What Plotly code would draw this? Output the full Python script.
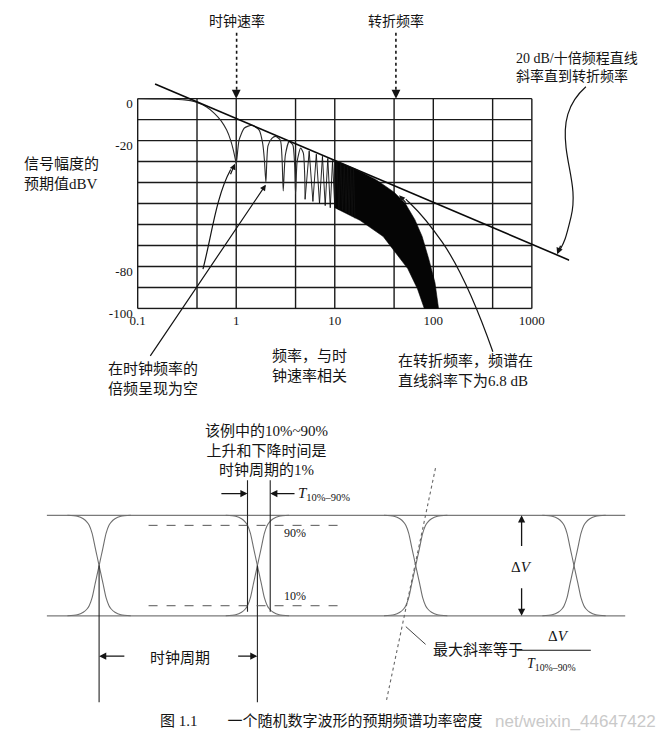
import math
import plotly.graph_objects as go

WIN_W, WIN_H = 667, 744
OFF = 8                       # page body margin; figure fills the rest of the window
W, H = WIN_W - OFF, WIN_H - OFF

# ---------------- top panel: expected spectrum ----------------
grid_freq = [0.1, 0.4, 1, 4, 10, 40, 100, 400, 1000]
grid_db = [0, -10, -20, -30, -40, -50, -60, -70, -80, -90, -100]
freq_tick_vals = [0.1, 1, 10, 100, 1000]
freq_tick_text = ["0.1", "1", "10", "100", "1000"]
db_tick_vals = [0, -20, -80, -100]
db_tick_text = ["0", "-20", "-80", "-100"]

# 20 dB/decade asymptote
asym_freq = [0.15, 2400]
asym_db = [7.0, -77.0]

# main lobe and the first side lobes (nulls at multiples of the clock)
lobe_freq = [0.1, 0.2, 0.3, 0.38, 0.5, 0.6, 0.7, 0.8, 0.88, 0.94, 0.98, 1.0,
             1.07, 1.21, 1.45, 1.71, 1.85, 1.93, 2.0,
             2.1, 2.3, 2.5, 2.8, 2.92, 3.0,
             3.15, 3.44, 3.75, 3.92, 4.0,
             4.15, 4.5, 4.8, 4.95, 5.0]
lobe_db = [0, -0.2, -0.6, -1.5, -4, -7, -10.5, -15, -20, -25, -29, -31,
           -19.7, -14, -12.7, -15, -21, -29, -40,
           -22.5, -19, -18, -19.7, -29, -44,
           -27, -20.5, -22, -32, -45.5,
           -30, -23.5, -26, -36, -48]

# dense comb of narrow side lobes
comb_freq = [5, 5.5, 6, 6.5, 7, 7.5, 8, 8.5, 9, 9.5, 10, 10.5, 11, 11.5, 12, 12.5,
             13, 13.5, 14, 14.5, 15, 15.5, 16]
comb_db = [-48, -25, -49, -26.5, -50, -27.5, -51, -28.5, -52, -29.5, -52, -30.5,
           -53, -31, -53, -32, -54, -32.5, -55, -33, -56, -33.5, -57]

# solid black band where the lobes merge
band_upper_freq = [10, 16.6, 26, 40, 52, 65, 77, 90, 104, 113]
band_upper_db = [-29.5, -33.8, -38.5, -44.6, -50, -57.7, -65.7, -76.5, -87.8, -100]
band_lower_freq = [81, 69, 55, 40, 31, 18, 12, 10]
band_lower_db = [-100, -90.6, -81, -72.8, -65.7, -58, -54, -52]

clock_rate = 1.0
corner_freq = 41.8
corner_point = (45.0, -46.0)
null_points_freq = [0.97, 2.0]
null_points_db = [-31.0, -41.0]

# ---------------- bottom panel: eye diagram (time in clock periods, volts normalised) ----------------
crossings = [0, 1, 2, 3]
edge_dt = [-0.2, -0.1375, -0.1, -0.075, -0.0625, -0.044, -0.025, -0.0125, 0,
           0.0125, 0.025, 0.044, 0.0625, 0.075, 0.1, 0.1375, 0.2]
fall_v = [1.0, 0.99, 0.965, 0.93, 0.90, 0.82, 0.68, 0.59, 0.5,
          0.41, 0.32, 0.18, 0.10, 0.07, 0.035, 0.01, 0.0]
rise_v = [1.0 - v for v in fall_v]
t_start, t_end = -0.33125, 3.325
level_hi, level_lo = 1.0, 0.0
pct90, pct10 = 0.9, 0.1
t_rise_10, t_rise_90 = 0.9375, 1.081

# ---------------- geometry helpers (arguments are window pixels) ----------------
def P(px, py):
    return (px - OFF) / W, 1 - (py - OFF) / H

def dom_x(a, b):
    return [(a - OFF) / W, (b - OFF) / W]

def dom_y(top, bottom):
    return [1 - (bottom - OFF) / H, 1 - (top - OFF) / H]

def px_path(spec):
    out = []
    for cmd, *pts in spec:
        out.append(cmd + " ".join("%.5f,%.5f" % P(x, y) for x, y in pts))
    return " ".join(out)

# top panel mapping: 99.6 px per decade, 2.13 px per dB; f=0.1 at x=132, 0 dB at y=100
x1_range = [-1.01, 3.38]
y1_range = [-100.5, 8]
x1_px = (132 + (x1_range[0] + 1) * 99.6, 132 + (x1_range[1] + 1) * 99.6)
y1_px = (100 - y1_range[1] * 2.13, 100 - y1_range[0] * 2.13)

# bottom panel mapping: 160 px per period (t=0 at x=93), 102 px per unit (v=0 at y=V0)
DY = 8                                   # bottom-panel vertical placement
V0 = 617 + DY
x2_range = [t_start, t_end]
y2_px = (423, 722)
y2_range = [(V0 - y2_px[1]) / 102, (V0 - y2_px[0]) / 102]
x2_px = (93 + t_start * 160, 93 + t_end * 160)

CJK = "Noto Sans CJK SC"
SERIF_CJK = "Liberation Serif, Noto Sans CJK SC"
INK = "#141414"

fig = go.Figure()

# grid of the spectrum plot
gx, gy = [], []
for f in grid_freq:
    gx += [f, f, None]
    gy += [grid_db[-1], grid_db[0], None]
for d in grid_db:
    gx += [grid_freq[0], grid_freq[-1], None]
    gy += [d, d, None]
fig.add_trace(go.Scatter(x=gx, y=gy, mode="lines", line=dict(color="#1a1a1a", width=1.4),
                         hoverinfo="skip", xaxis="x", yaxis="y"))

fig.add_trace(go.Scatter(
    x=band_upper_freq + band_lower_freq, y=band_upper_db + band_lower_db,
    mode="lines", fill="toself", fillcolor="#050505", line=dict(color="#050505", width=0.6),
    xaxis="x", yaxis="y"))
fig.add_trace(go.Scatter(x=comb_freq, y=comb_db, mode="lines",
                         line=dict(color="#101010", width=0.9), xaxis="x", yaxis="y"))
fig.add_trace(go.Scatter(x=lobe_freq, y=lobe_db, mode="lines",
                         line=dict(color="#2a2a2a", width=1.1, shape="spline", smoothing=0.6),
                         xaxis="x", yaxis="y"))
fig.add_trace(go.Scatter(x=asym_freq, y=asym_db, mode="lines",
                         line=dict(color="#0a0a0a", width=1.6), xaxis="x", yaxis="y"))

# eye diagram
for lv in (level_hi, level_lo):
    fig.add_trace(go.Scatter(x=[t_start, t_end], y=[lv, lv], mode="lines",
                             line=dict(color="#7a7a7a", width=1.3), xaxis="x2", yaxis="y2"))
ex_f, ey_f, ex_r, ey_r = [], [], [], []
for c in crossings:
    ex_f += [c + d for d in edge_dt] + [None]
    ey_f += fall_v + [None]
    ex_r += [c + d for d in edge_dt] + [None]
    ey_r += rise_v + [None]
for xs, ys in ((ex_f, ey_f), (ex_r, ey_r)):
    fig.add_trace(go.Scatter(x=xs, y=ys, mode="lines",
                             line=dict(color="#6e6e6e", width=1.1, shape="spline", smoothing=0.7),
                             xaxis="x2", yaxis="y2"))

shapes = []
ann = []

def text(px, py, s, size=15, anchor="left", family=CJK, color=INK):
    x, y = P(px, py)
    ann.append(dict(x=x, y=y, xref="paper", yref="paper", text=s, showarrow=False,
                    xanchor=anchor, yanchor="middle", align=anchor,
                    font=dict(family=family, size=size, color=color)))

def head(px, py, dx, dy, width=1.3, size=1.0):
    x, y = P(px, py)
    ann.append(dict(x=x, y=y, xref="paper", yref="paper", text="", showarrow=True,
                    ax=dx, ay=dy, arrowhead=2, arrowsize=size, arrowwidth=width,
                    arrowcolor=INK, standoff=0))

def pline(x0, y0, x1, y1, dash="solid", width=1.2, color=INK):
    a, b = P(x0, y0)
    c, d = P(x1, y1)
    shapes.append(dict(type="line", xref="paper", yref="paper", x0=a, y0=b, x1=c, y1=d,
                       line=dict(color=color, width=width, dash=dash)))

def ppath(spec, width=1.2, color=INK, dash="solid"):
    shapes.append(dict(type="path", xref="paper", yref="paper", path=px_path(spec),
                       line=dict(color=color, width=width, dash=dash)))

# ---- top panel labels ----
text(232, 20, "时钟速率", 14, "center")
text(393, 20, "转折频率", 14, "center")
pline(232, 33, 232, 92, dash="dot", width=1.6)
pline(393, 33, 393, 92, dash="dot", width=1.6)
ann.append(dict(x=math.log10(clock_rate), y=0, xref="x", yref="y", text="", showarrow=True,
                ax=0, ay=-10, arrowhead=2, arrowsize=1.1, arrowwidth=1.6, arrowcolor=INK, standoff=0))
ann.append(dict(x=math.log10(corner_freq), y=0, xref="x", yref="y", text="", showarrow=True,
                ax=0, ay=-10, arrowhead=2, arrowsize=1.1, arrowwidth=1.6, arrowcolor=INK, standoff=0))

text(512, 68, "20 dB/十倍频程直线<br>斜率直到转折频率", 14, "left", SERIF_CJK)
ppath([("M", (585, 88)), ("C", (566, 105), (562, 125), (565, 150)),
       ("S", (576, 195), (570, 220)), ("S", (563, 246), (558, 255))], width=1.2)
head(556, 258, 4, -10)

text(15, 177, "信号幅度的<br>预期值dBV", 15, "left", SERIF_CJK)

text(100, 383, "在时钟频率的<br>倍频呈现为空", 15, "left")
ann.append(dict(x=math.log10(null_points_freq[1]), y=null_points_db[1], xref="x", yref="y",
                text="", showarrow=True, ax=145 - 261.6, ay=360 - 187.3, arrowhead=2,
                arrowsize=1.0, arrowwidth=1.2, arrowcolor=INK, standoff=0))
ppath([("M", (198, 273)), ("C", (207, 238), (211, 200), (226, 172))], width=1.2)
ann.append(dict(x=math.log10(null_points_freq[0]), y=null_points_db[0], xref="x", yref="y",
                text="", showarrow=True, ax=-5, ay=12, arrowhead=2,
                arrowsize=1.0, arrowwidth=1.2, arrowcolor=INK, standoff=0))

text(266, 370, "频率，与时<br>钟速率相关", 15, "left")

text(393, 377, "在转折频率，频谱在<br>直线斜率下为6.8 dB", 15, "left", SERIF_CJK)
ppath([("M", (491, 357)), ("C", (478, 320), (460, 275), (440, 246)),
       ("S", (412, 211), (403, 202))], width=1.2)
ann.append(dict(x=math.log10(corner_point[0]), y=corner_point[1], xref="x", yref="y",
                text="", showarrow=True, ax=8, ay=9, arrowhead=2,
                arrowsize=1.0, arrowwidth=1.2, arrowcolor=INK, standoff=0))

# ---- bottom panel labels ----
text(262, 449 + DY, "该例中的10%~90%<br>上升和下降时间是<br>时钟周期的1%", 15, "center", SERIF_CJK)

for tt in (t_rise_10, t_rise_90):
    shapes.append(dict(type="line", xref="x2", yref="y2", x0=tt, x1=tt, y0=0.04, y1=1.35,
                       line=dict(color="#222", width=1.1)))
for tt in crossings[:2]:
    shapes.append(dict(type="line", xref="x2", yref="y2", x0=tt, x1=tt, y0=0.5, y1=-0.86,
                       line=dict(color="#222", width=1.1)))
for lv in (pct90, pct10):
    shapes.append(dict(type="line", xref="x2", yref="y2", x0=0.3125, x1=1.5625, y0=lv, y1=lv,
                       line=dict(color="#555", width=1.0, dash="dash")))
# max-slope tangent (dotted)
shapes.append(dict(type="line", xref="x2", yref="y2", x0=2.125, y0=1.47, x1=1.8125, y1=-0.863,
                   line=dict(color="#666", width=1.1, dash="dot")))

def arr2(tx, ty, hx, hy):
    ann.append(dict(x=hx, y=hy, xref="x2", yref="y2", ax=tx, ay=ty, axref="x2", ayref="y2",
                    text="", showarrow=True, arrowhead=2, arrowsize=1.1, arrowwidth=1.3,
                    arrowcolor=INK, standoff=0))

# T10-90 arrows
arr2(0.763, 1.216, t_rise_10, 1.216)
arr2(1.244, 1.216, t_rise_90, 1.216)
text(292, 493 + DY, "<i>T</i><sub>10%–90%</sub>", 15, "left", "Liberation Serif")
text(278, 533 + DY, "90%", 12, "left", "Liberation Serif")
text(278, 597 + DY, "10%", 12, "left", "Liberation Serif")

# clock period arrows
arr2(0.169, -0.402, 0.0, -0.402)
arr2(0.869, -0.402, 1.0, -0.402)
text(175, 658 + DY, "时钟周期", 15, "center")

# delta V arrows
arr2(2.669, 0.68, 2.669, level_hi)
arr2(2.669, 0.29, 2.669, level_lo)
text(520, 567 + DY, "Δ<i>V</i>", 15, "center", "Liberation Serif")

# max slope annotation
pline(403, 628 + DY, 423, 646 + DY, width=1.0, color="#444")
text(428, 650 + DY, "最大斜率等于", 15, "left")
text(557, 638 + DY, "Δ<i>V</i>", 15, "center", "Liberation Serif")
pline(515, 652 + DY, 590, 652 + DY, width=1.0)
text(550, 666 + DY, "<i>T</i><sub>10%–90%</sub>", 14, "center", "Liberation Serif")

# caption + visible part of the watermark
text(318, 732, "图 1.1　　一个随机数字波形的预期频谱功率密度", 15, "center", SERIF_CJK)
text(658, 732, "net/weixin_44647422", 17, "right", "Liberation Sans", "#c9c9c9")

fig.update_layout(
    width=W, height=H, margin=dict(l=0, r=0, t=0, b=0),
    paper_bgcolor="white", plot_bgcolor="rgba(0,0,0,0)", showlegend=False,
    shapes=shapes, annotations=ann,
    xaxis=dict(type="log", range=x1_range, domain=dom_x(*x1_px),
               tickvals=freq_tick_vals, ticktext=freq_tick_text, showgrid=False,
               zeroline=False, showline=False, ticks="", anchor="y", ticklabelstandoff=2,
               tickfont=dict(family="Liberation Serif", size=13, color=INK)),
    yaxis=dict(range=y1_range, domain=dom_y(*y1_px),
               tickvals=db_tick_vals, ticktext=db_tick_text, showgrid=False,
               zeroline=False, showline=False, ticks="", anchor="x", ticklabelshift=5,
               ticklabelstandoff=3,
               tickfont=dict(family="Liberation Serif", size=13, color=INK)),
    xaxis2=dict(range=x2_range, domain=dom_x(*x2_px), visible=False, anchor="y2"),
    yaxis2=dict(range=y2_range, domain=dom_y(*y2_px), visible=False, anchor="x2"),
)

fig.write_html("out.html")
